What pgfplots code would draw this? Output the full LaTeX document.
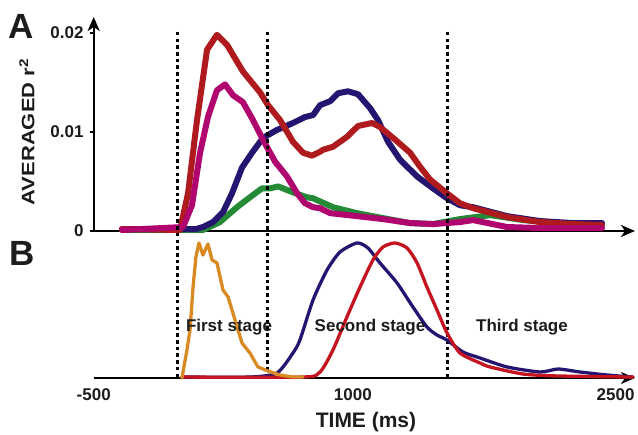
\documentclass[border=0pt]{standalone}
\usepackage{fontspec}
\setmainfont{Liberation Sans}
\usepackage{graphicx}
\usepackage{pgfplots}
\pgfplotsset{compat=1.18}
\usetikzlibrary{arrows.meta}
\definecolor{cred}{HTML}{AF1A1E}
\definecolor{cmag}{HTML}{B0046E}
\definecolor{cblue}{HTML}{261570}
\definecolor{cgreen}{HTML}{248A36}
\definecolor{corange}{HTML}{D98A22}
\definecolor{cred2}{HTML}{C3141F}
\definecolor{ctext}{HTML}{1C1C1C}
\begin{document}
\begin{tikzpicture}[x=1pt,y=1pt]
\useasboundingbox (0,0) rectangle (638,435);
% ---------------- Panel A ----------------
\begin{axis}[
  at={(93.7pt,204pt)}, anchor=south west, scale only axis,
  width=541.3pt, height=214pt,
  xmin=-470, xmax=2548, ymin=0, ymax=0.0216,
  axis lines=left,
  axis line style={line width=2.2pt, black, -{Stealth[length=14pt,width=12pt,inset=4pt]}},
  xtick=\empty, ytick={0,0.01,0.02}, yticklabels={0,0.01,0.02},
  scaled y ticks=false,
  tick style={line width=1.5pt, black}, major tick length=4pt, tick align=outside,
  yticklabel style={font=\fontsize{17}{17}\selectfont\bfseries, text=ctext, inner sep=0pt, xshift=-6pt},
  clip=false,
  every axis plot/.append style={line join=round, line cap=round},
]
\addplot[cgreen, line width=6pt] coordinates {(-312,0.0001) (139,0.0001) (234,0.0009) (329,0.0024) (401,0.0034) (468,0.0043) (513,0.0043) (558,0.0045) (641,0.0039) (719,0.0034) (753,0.0033) (864,0.0024) (998,0.0018) (1143,0.0013) (1294,0.0008) (1422,0.0007) (1572,0.0012) (1740,0.0016) (1924,0.0011) (2113,0.0008) (2364,0.0007)};
\addplot[cblue, line width=6pt] coordinates {(-312,0.0002) (100,0.0002) (139,0.0004) (195,0.0009) (251,0.0019) (301,0.0038) (357,0.0064) (413,0.0079) (474,0.0094) (552,0.0102) (641,0.0109) (708,0.0115) (753,0.0117) (792,0.0127) (848,0.0131) (892,0.0139) (948,0.0141) (1004,0.0138) (1071,0.0124) (1115,0.0112) (1171,0.0090) (1238,0.0072) (1333,0.0055) (1422,0.0043) (1500,0.0033) (1572,0.0026) (1645,0.0024) (1835,0.0015) (2019,0.0010) (2203,0.0008) (2364,0.0008)};
\addplot[cred, line width=6pt] coordinates {(-312,0.0002) (11,0.0001) (56,0.0038) (106,0.0112) (162,0.0183) (217,0.0198) (273,0.0188) (362,0.0161) (457,0.0140) (502,0.0127) (569,0.0112) (641,0.0090) (697,0.0079) (747,0.0076) (792,0.0080) (809,0.0082) (864,0.0085) (942,0.0095) (1004,0.0106) (1082,0.0109) (1126,0.0105) (1199,0.0094) (1294,0.0079) (1349,0.0065) (1405,0.0052) (1500,0.0038) (1572,0.0028) (1645,0.0023) (1835,0.0014) (2019,0.0009) (2203,0.0007) (2364,0.0006)};
\addplot[cmag, line width=6pt] coordinates {(-312,0.0001) (28,0.0004) (78,0.0026) (123,0.0079) (167,0.0115) (217,0.0142) (262,0.0148) (307,0.0137) (362,0.0130) (418,0.0112) (474,0.0092) (541,0.0070) (608,0.0055) (664,0.0038) (708,0.0028) (753,0.0024) (792,0.0023) (848,0.0018) (998,0.0015) (1143,0.0012) (1294,0.0008) (1422,0.0007) (1572,0.0009) (1645,0.0011) (1835,0.0004) (2019,0.0003) (2364,0.0003)};
% stage boundaries
\addplot[black, line width=3pt, dash pattern=on 3.6pt off 3.1pt, line cap=butt] coordinates {(0,0.0201) (0,-0.0149)};
\addplot[black, line width=3pt, dash pattern=on 3.6pt off 3.1pt, line cap=butt] coordinates {(500,0.0201) (500,-0.0149)};
\addplot[black, line width=3pt, dash pattern=on 3.6pt off 3.1pt, line cap=butt] coordinates {(1500,0.0201) (1500,-0.0149)};
\end{axis}
% ---------------- Panel B ----------------
\begin{axis}[
  at={(93.7pt,57pt)}, anchor=south west, scale only axis,
  width=541.3pt, height=142.8pt,
  xmin=-470, xmax=2548, ymin=0, ymax=1.05,
  axis x line=bottom, axis y line=none,
  axis line style={line width=2pt, black, -{Stealth[length=14pt,width=12pt,inset=4pt]}},
  xtick={-470,975,2440}, xticklabels={-500,1000,2500},
  major tick length=0pt,
  xticklabel style={font=\fontsize{17}{17}\selectfont\bfseries, text=ctext, inner sep=0pt, yshift=-10pt},
  ytick=\empty,
  clip=false,
  every axis plot/.append style={line join=round, line cap=round},
]
\addplot[cblue, line width=3.3pt, smooth, tension=0.4] coordinates {(22,0.007) (401,0.007) (552,0.037) (641,0.184) (680,0.28) (753,0.574) (831,0.794) (903,0.926) (998,0.993) (1059,0.956) (1126,0.846) (1221,0.699) (1310,0.522) (1388,0.375) (1444,0.316) (1500,0.279) (1589,0.191) (1684,0.147) (1835,0.081) (2019,0.044) (2119,0.066) (2242,0.044) (2392,0.022) (2537,0.007)};
\addplot[cred2, line width=3.3pt, smooth, tension=0.4] coordinates {(22,0.007) (697,0.007) (792,0.044) (864,0.206) (942,0.449) (1015,0.669) (1087,0.868) (1143,0.963) (1210,0.993) (1277,0.956) (1333,0.846) (1388,0.669) (1444,0.5) (1500,0.331) (1572,0.184) (1684,0.110) (1740,0.081) (1924,0.029) (2113,0.015) (2537,0.007)};
\addplot[corange, line width=3.3pt] coordinates {(22,0) (50,0.206) (67,0.353) (84,0.669) (100,0.890) (117,0.993) (139,0.904) (167,0.985) (190,0.868) (217,0.846) (251,0.647) (279,0.596) (318,0.426) (357,0.257) (401,0.184) (446,0.081) (502,0.051) (569,0.022) (641,0.007) (697,0.007)};
\end{axis}
% ---------------- Texts ----------------
\node[font=\fontsize{35}{35}\selectfont\bfseries, text=ctext] at (21,409) {A};
\node[font=\fontsize{35}{35}\selectfont\bfseries, text=ctext] at (22,182) {B};
\node[rotate=90, font=\fontsize{18}{18}\selectfont\bfseries, text=ctext] at (27,303) {\scalebox{1.22}[1]{AVERAGED r\textsuperscript{2}}};
\node[font=\fontsize{17}{17}\selectfont\bfseries, text=ctext] at (229,108) {First stage};
\node[font=\fontsize{17}{17}\selectfont\bfseries, text=ctext] at (370,108) {Second stage};
\node[font=\fontsize{17}{17}\selectfont\bfseries, text=ctext] at (522,108) {Third stage};
\node[font=\fontsize{21}{21}\selectfont\bfseries, text=ctext] at (366,13) {TIME (ms)};
\end{tikzpicture}
\end{document}
